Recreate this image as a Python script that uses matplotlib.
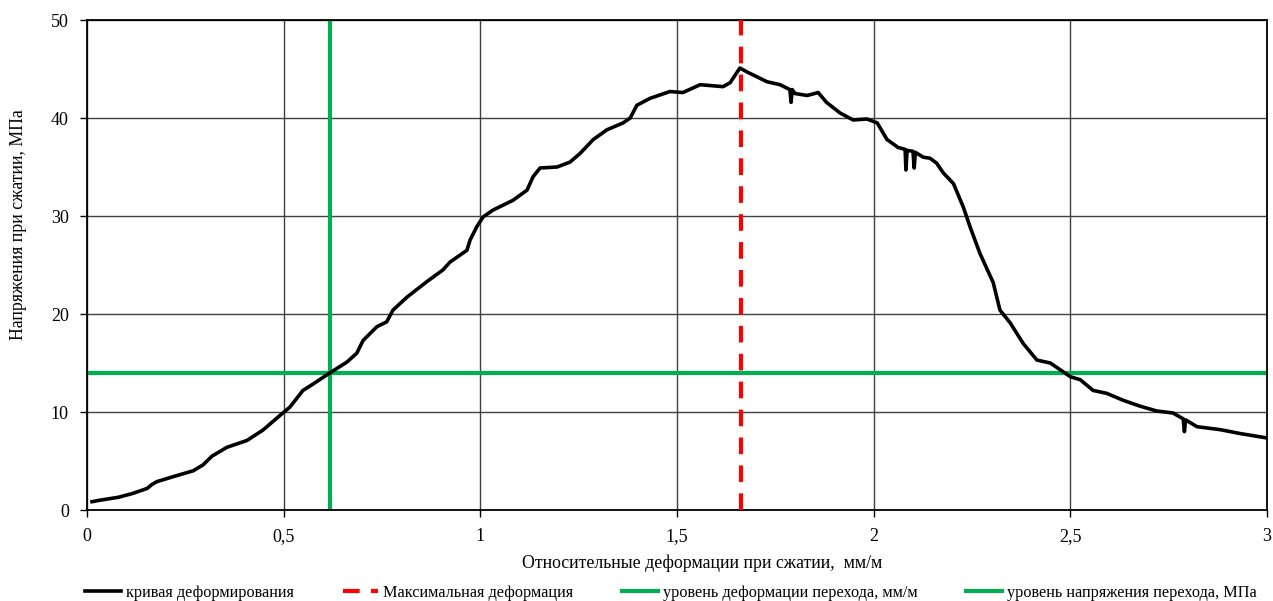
import matplotlib
matplotlib.use("Agg")
import matplotlib.pyplot as plt
from matplotlib.ticker import FuncFormatter

plt.rcParams['font.family'] = ['Liberation Serif', 'DejaVu Serif']

# strain, mm/m
strain = [0.013, 0.033, 0.08, 0.117, 0.153, 0.165, 0.178, 0.219, 0.27, 0.295, 0.318,
          0.356, 0.407, 0.4475, 0.498, 0.516, 0.549, 0.567, 0.618, 0.661, 0.686,
          0.702, 0.737, 0.762, 0.778, 0.813, 0.829, 0.864, 0.905, 0.923, 0.966,
          0.974, 0.991, 1.007, 1.032, 1.083, 1.119, 1.134, 1.152, 1.195, 1.228,
          1.254, 1.287, 1.322, 1.363, 1.381, 1.398, 1.431, 1.482, 1.515, 1.559,
          1.617, 1.635, 1.660, 1.678, 1.729, 1.762, 1.787, 1.790, 1.793, 1.800,
          1.831, 1.859, 1.880, 1.915, 1.948, 1.983, 2.009, 2.034, 2.062, 2.080,
          2.082, 2.085, 2.100, 2.103, 2.106, 2.126, 2.143, 2.160, 2.177, 2.203,
          2.228, 2.245, 2.270, 2.304, 2.321, 2.347, 2.380, 2.415, 2.449, 2.482,
          2.500, 2.525, 2.558, 2.593, 2.634, 2.677, 2.720, 2.761, 2.787, 2.790,
          2.793, 2.822, 2.881, 2.932, 3.0]
# stress, MPa
stress = [0.85, 1.0, 1.3, 1.7, 2.2, 2.6, 2.9, 3.4, 4.0, 4.6, 5.5,
          6.4, 7.1, 8.16, 9.9, 10.5, 12.2, 12.65, 14.0, 15.1, 16.0,
          17.3, 18.7, 19.2, 20.4, 21.7, 22.2, 23.3, 24.5, 25.3, 26.5,
          27.55, 28.9, 29.9, 30.6, 31.6, 32.65, 34.0, 34.9, 35.0, 35.5,
          36.4, 37.8, 38.8, 39.5, 40.0, 41.3, 42.0, 42.7, 42.6, 43.4,
          43.2, 43.6, 45.1, 44.7, 43.7, 43.4, 42.9, 41.6, 42.9, 42.5,
          42.3, 42.6, 41.6, 40.5, 39.8, 39.9, 39.5, 37.8, 37.0, 36.8,
          34.7, 36.7, 36.6, 34.9, 36.5, 36.0, 35.9, 35.4, 34.4, 33.3,
          30.9, 28.9, 26.2, 23.2, 20.4, 19.1, 17.0, 15.3, 15.0, 14.1,
          13.6, 13.3, 12.2, 11.9, 11.2, 10.6, 10.1, 9.9, 9.3, 8.0,
          9.2, 8.5, 8.2, 7.8, 7.35]

max_strain = 1.663
trans_strain = 0.618
trans_stress = 14.0

xticks = [0, 0.5, 1, 1.5, 2, 2.5, 3]
yticks = [0, 10, 20, 30, 40, 50]

fig = plt.figure(figsize=(12.73, 6.01), dpi=100)
ax = fig.add_axes([0.0683, 0.1514, 0.9270, 0.8153])

ax.plot(strain, stress, color='black', lw=2.6, label='кривая деформирования', zorder=3)
ax.axvline(max_strain, color='#ff0000', lw=3, ls=(0, (4, 2.7)), label='Максимальная деформация', zorder=4)
ax.axvline(trans_strain, color='#00b050', lw=3, label='уровень деформации перехода, мм/м', zorder=2)
ax.axhline(trans_stress, color='#00b050', lw=3, label='уровень напряжения перехода, МПа', zorder=2)

ax.set_xlim(0, 3)
ax.set_ylim(0, 50)
ax.set_xticks(xticks)
ax.set_yticks(yticks)
ax.xaxis.set_major_formatter(FuncFormatter(lambda v, p: ('%g' % v).replace('.', ',')))
ax.grid(True, color='#404040', lw=1)
ax.set_axisbelow(True)
ax.tick_params(direction='out', length=5, width=1, labelsize=13, color='black', pad=8)
for s in ax.spines.values():
    s.set_color('black')
    s.set_linewidth(1.3)

ax.set_xlabel('Относительные деформации при сжатии,  мм/м', fontsize=12.8)
ax.set_ylabel('Напряжения при сжатии, МПа', fontsize=12.8)
ax.xaxis.set_label_coords(0.521, -0.090)
ax.yaxis.set_label_coords(-0.0508, 0.582)

fig.legend(loc='center', bbox_to_anchor=(0.527, 1 - 593 / 601), ncol=4, frameon=False,
           fontsize=11.7, handlelength=2.2, handletextpad=0.3, columnspacing=3.0)

fig.savefig('out.png', dpi=100)
